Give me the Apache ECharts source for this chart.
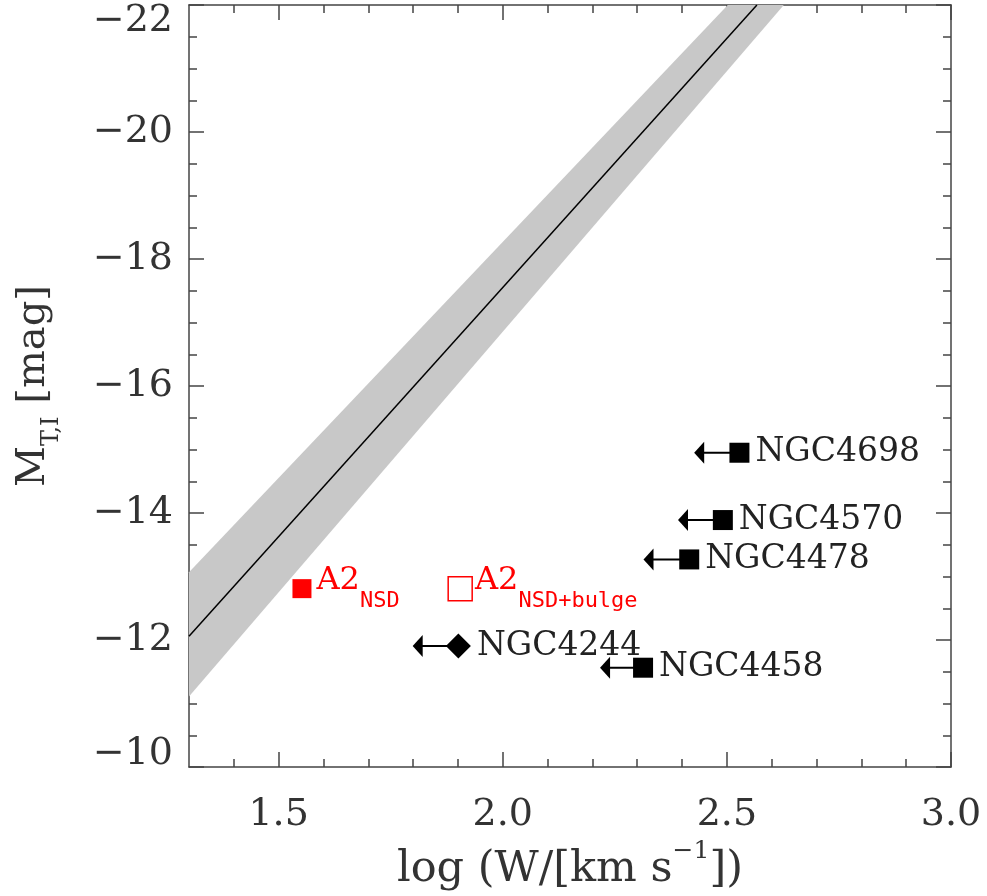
<!DOCTYPE html>
<html><head><meta charset="utf-8">
<script src="https://cdn.jsdelivr.net/npm/echarts@6/dist/echarts.min.js"></script>
<style>html,body{margin:0;padding:0;background:#fff}#c{width:987px;height:896px}</style>
</head><body><div id="c"></div>
<script>
// ---- axis ticks ----
const xMajorTicks = [1.5, 2.0, 2.5, 3.0];
const xMinorTicks = [1.4, 1.5, 1.6, 1.7, 1.8, 1.9, 2.0, 2.1, 2.2, 2.3, 2.4, 2.5, 2.6, 2.7, 2.8, 2.9, 3.0];
const xRange = [1.3, 3.0];
const yRange = [-22, -10];
const yStep = 2;

// ---- galaxies (upper limits in log W) ----
const galaxyNames = ['NGC4698', 'NGC4570', 'NGC4478', 'NGC4244', 'NGC4458'];
const galaxyLogW = [2.528, 2.491, 2.416, 1.901, 2.313];
const galaxyMag = [-14.95, -13.89, -13.27, -11.905, -11.565];
const galaxyLimitTo = [2.427, 2.391, 2.314, 1.799, 2.217];
const galaxySymbols = ['rect', 'rect', 'rect', 'diamond', 'rect'];

// ---- A2 measurements ----
const a2Names = ['NSD', 'NSD+bulge'];
const a2LogW = [1.552, 1.905];
const a2Mag = [-12.81, -12.81];

// ---- Tully-Fisher fit and its band ----
const fitLogW = [1.3, 2.567];
const fitMag = [-12.06, -22.0];
const bandUpperLogW = [1.3, 2.502];
const bandUpperMag = [-13.07, -22.0];
const bandLowerLogW = [1.3, 2.627];
const bandLowerMag = [-11.11, -22.0];

const FONT = 'DejaVu Serif';
const FRAME = '#444';
const chart = echarts.init(document.getElementById('c'), null, {renderer: 'canvas'});

function xAxisDef(pos, ticks, len, showLine, showLabel) {
  return {
    type: 'value', position: pos, min: xRange[0], max: xRange[1],
    axisLine: {show: showLine, onZero: false, lineStyle: {color: FRAME, width: 1.5}},
    axisTick: {show: true, inside: true, length: len, customValues: ticks, lineStyle: {color: FRAME, width: 1.5}},
    axisLabel: {show: showLabel, customValues: xMajorTicks, formatter: v => v.toFixed(1),
      fontFamily: FONT, fontSize: 38, lineHeight: 38, color: '#333', margin: 29},
    splitLine: {show: false}
  };
}
const yLabelStyle = {fontFamily: FONT, fontSize: 38, color: '#333'};
function yAxisDef(pos, showLabel) {
  return {
    type: 'value', position: pos, min: yRange[0], max: yRange[1], interval: yStep, inverse: true,
    axisLine: {show: true, onZero: false, lineStyle: {color: FRAME, width: 1.5}},
    axisTick: {show: true, inside: true, length: 15, lineStyle: {color: FRAME, width: 1.5}},
    minorTick: {show: true, splitNumber: 4, length: 8, lineStyle: {color: FRAME, width: 1.5}},
    axisLabel: {show: showLabel, margin: 16,
      formatter: v => {
        const t = '\u2212' + Math.abs(v);
        if (v === yRange[0]) return '{top|' + t + '}';
        if (v === yRange[1]) return '{bot|' + t + '}';
        return '{n|' + t + '}';
      },
      rich: {
        n: Object.assign({}, yLabelStyle),
        top: Object.assign({padding: [32, 0, 0, 0]}, yLabelStyle),
        bot: Object.assign({padding: [0, 0, 26, 0]}, yLabelStyle)
      }
    },
    splitLine: {show: false}
  };
}

const xAxes = [
  xAxisDef('bottom', xMajorTicks, 15, true, true),
  xAxisDef('bottom', xMinorTicks, 8, false, false),
  xAxisDef('top', xMajorTicks, 15, true, false),
  xAxisDef('top', xMinorTicks, 8, false, false)
];
Object.assign(xAxes[0], {
  name: '{m|log (W/[km s}{p|\u22121}{m|])}', nameLocation: 'middle', nameGap: 67,
  nameTextStyle: {rich: {
    m: {fontFamily: FONT, fontSize: 43, lineHeight: 52, verticalAlign: 'bottom', color: '#333'},
    p: {fontFamily: FONT, fontSize: 25, lineHeight: 18, verticalAlign: 'top', color: '#333'}
  }}
});
const yAxes = [yAxisDef('left', true), yAxisDef('right', false)];
Object.assign(yAxes[0], {
  name: '{m|M}{s|T,I}{m| [mag]}', nameLocation: 'middle', nameGap: 125, nameRotate: 90,
  nameTextStyle: {rich: {
    m: {fontFamily: FONT, fontSize: 40, lineHeight: 50, verticalAlign: 'top', color: '#333'},
    s: {fontFamily: FONT, fontSize: 24, lineHeight: 18, verticalAlign: 'bottom', color: '#333'}
  }}
});

const galaxyData = galaxyNames.map((n, i) => ({
  name: n, value: [galaxyLogW[i], galaxyMag[i]],
  symbol: galaxySymbols[i], symbolSize: galaxySymbols[i] === 'diamond' ? 25 : 20
}));
const limitData = galaxyNames.map((n, i) => [galaxyLogW[i], galaxyMag[i], galaxyLimitTo[i]]);
const a2Rich = {
  a: {fontFamily: FONT, fontSize: 32, lineHeight: 48, verticalAlign: 'top', color: '#ff0000'},
  s: {fontFamily: 'DejaVu Sans Mono', fontSize: 22, lineHeight: 20, verticalAlign: 'bottom', color: '#ff0000'}
};

chart.setOption({
  animation: false,
  backgroundColor: '#fff',
  grid: {left: 189, right: 36, top: 5, bottom: 128, containLabel: false},
  xAxis: xAxes,
  yAxis: yAxes,
  series: [
    {
      type: 'custom', xAxisIndex: 0, yAxisIndex: 0, z: 1, silent: true,
      data: [[bandUpperLogW[0], bandUpperMag[0]]],
      renderItem: (params, api) => {
        const pts = [
          api.coord([bandUpperLogW[0], bandUpperMag[0]]),
          api.coord([bandUpperLogW[1], bandUpperMag[1]]),
          api.coord([bandLowerLogW[1], bandLowerMag[1]]),
          api.coord([bandLowerLogW[0], bandLowerMag[0]])
        ];
        return {type: 'polygon', shape: {points: pts}, style: {fill: '#c8c8c8'}};
      }
    },
    {
      type: 'line', xAxisIndex: 0, yAxisIndex: 0, z: 2, symbol: 'none', silent: true,
      data: fitLogW.map((x, i) => [x, fitMag[i]]),
      lineStyle: {color: '#000', width: 1.5}
    },
    {
      type: 'custom', xAxisIndex: 0, yAxisIndex: 0, z: 3, silent: true,
      data: limitData,
      renderItem: (params, api) => {
        const p = api.coord([api.value(0), api.value(1)]);
        const t = api.coord([api.value(2), api.value(1)]);
        return {type: 'group', children: [
          {type: 'line', shape: {x1: p[0], y1: p[1], x2: t[0] + 8, y2: t[1]}, style: {stroke: '#000', lineWidth: 2}},
          {type: 'polygon', shape: {points: [[t[0], t[1]], [t[0] + 10, t[1] - 11], [t[0] + 10, t[1] + 11]]}, style: {fill: '#000'}}
        ]};
      }
    },
    {
      type: 'scatter', xAxisIndex: 0, yAxisIndex: 0, z: 4,
      data: galaxyData,
      itemStyle: {color: '#000', opacity: 1},
      emphasis: {disabled: true},
      label: {show: true, position: 'right', distance: 6, formatter: p => p.name,
        fontFamily: FONT, fontSize: 33, color: '#222'}
    },
    {
      type: 'scatter', xAxisIndex: 0, yAxisIndex: 0, z: 4,
      data: [{name: a2Names[0], value: [a2LogW[0], a2Mag[0]]}],
      symbol: 'rect', symbolSize: 19,
      itemStyle: {color: '#ff0000', opacity: 1},
      emphasis: {disabled: true},
      label: {show: true, position: 'right', distance: 5,
        formatter: p => '{a|A2}{s|' + p.name + '}', rich: a2Rich}
    },
    {
      type: 'scatter', xAxisIndex: 0, yAxisIndex: 0, z: 4,
      data: [{name: a2Names[1], value: [a2LogW[1], a2Mag[1]]}],
      symbol: 'rect', symbolSize: 24,
      itemStyle: {color: 'rgba(0,0,0,0)', borderColor: '#ff0000', borderWidth: 1.5, opacity: 1},
      emphasis: {disabled: true},
      label: {show: true, position: 'right', distance: 2,
        formatter: p => '{a|A2}{s|' + p.name + '}', rich: a2Rich}
    }
  ]
});
</script>
</body></html>
